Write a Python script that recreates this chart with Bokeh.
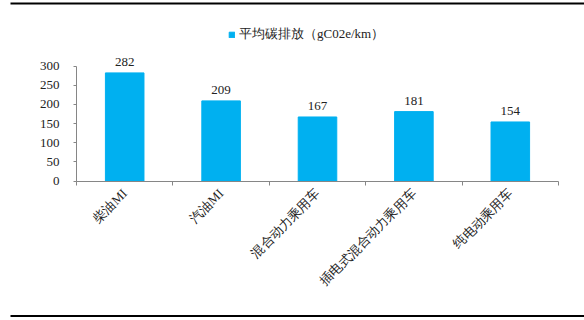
import math
from bokeh.plotting import figure
from bokeh.models import (Range1d, FixedTicker, ColumnDataSource, LabelSet,
                          Legend, LegendItem)
from bokeh.embed import file_html
from bokeh.resources import INLINE

categories = ["柴油MI", "汽油MI", "混合动力乘用车", "插电式混合动力乘用车", "纯电动乘用车"]
emissions = [282, 209, 167, 181, 154]
y_ticks = [0, 50, 100, 150, 200, 250, 300]
series_name = "平均碳排放（gC02e/km）"

FONT = "Liberation Serif"
BAR = "#00B0F0"
AXIS = "#868686"
TXT = "#222222"

# page layout (pixels)
W, H = 584, 320
PL, PR, PT, PB = 76, 558, 65.5, 180.5   # plot area edges
n = len(categories)
ymax = y_ticks[-1]

xs = -PL * n / (PR - PL)
xe = n + (W - PR) * n / (PR - PL)
ys = -(H - PB) * ymax / (PB - PT)
ye = ymax + PT * ymax / (PB - PT)


def xd(px):
    return xs + px * (xe - xs) / W


def yd(py):
    return ye - py * (ye - ys) / H


centers = [i + 0.5 for i in range(n)]
bounds = list(range(n + 1))

src = ColumnDataSource(dict(x=centers, top=emissions,
                            label=[str(v) for v in emissions]))

p = figure(width=W, height=H, x_range=Range1d(xs, xe),
           y_range=Range1d(ys, ye), title_location=None,
           output_backend="svg", toolbar_location=None,
           min_border=0)
p.outline_line_color = None
p.xgrid.visible = False
p.ygrid.visible = False

# frame rules top and bottom (thin filled strips)
p.quad(left=[xd(10), xd(10)], right=[xd(W), xd(W)],
       top=[yd(2), yd(314.5)], bottom=[yd(4), yd(316.5)],
       fill_color="black", line_color=None, level="overlay")

r = p.vbar(x="x", top="top", width=0.4, source=src,
           fill_color=BAR, line_color=BAR)

labels = LabelSet(x="x", y="top", text="label", source=src,
                  text_align="center", text_baseline="bottom", y_offset=7,
                  text_font=FONT, text_font_size="13px", text_color=TXT)
p.add_layout(labels)

xa = p.xaxis[0]
xa.fixed_location = 0
xa.bounds = (0, n)
xa.ticker = FixedTicker(ticks=centers, minor_ticks=bounds)
xa.major_label_overrides = {c: name for c, name in zip(centers, categories)}
xa.major_label_orientation = math.pi / 4
xa.major_tick_line_color = None
xa.major_tick_out = 0
xa.major_tick_in = 0
xa.minor_tick_line_color = AXIS
xa.minor_tick_out = 4
xa.minor_tick_in = 0
xa.axis_line_color = AXIS
xa.major_label_standoff = 6
xa.major_label_text_font = FONT
xa.major_label_text_font_size = "13px"
xa.major_label_text_color = TXT

ya = p.yaxis[0]
ya.fixed_location = 0
ya.bounds = (y_ticks[0], ymax)
ya.ticker = FixedTicker(ticks=y_ticks)
ya.major_tick_out = 3
ya.major_tick_in = 0
ya.major_tick_line_color = AXIS
ya.minor_tick_line_color = None
ya.axis_line_color = AXIS
ya.major_label_standoff = 14
ya.major_label_text_font = FONT
ya.major_label_text_font_size = "13px"
ya.major_label_text_color = TXT

legend = Legend(items=[LegendItem(label=series_name, renderers=[r])],
                location=(228, H - 43), padding=0, margin=0,
                border_line_color=None, background_fill_alpha=0,
                glyph_width=7, glyph_height=7, label_standoff=4,
                label_height=14, label_text_font=FONT,
                label_text_font_size="13px", label_text_color=TXT)
p.add_layout(legend)

open("out.html", "w").write(file_html(p, INLINE))
